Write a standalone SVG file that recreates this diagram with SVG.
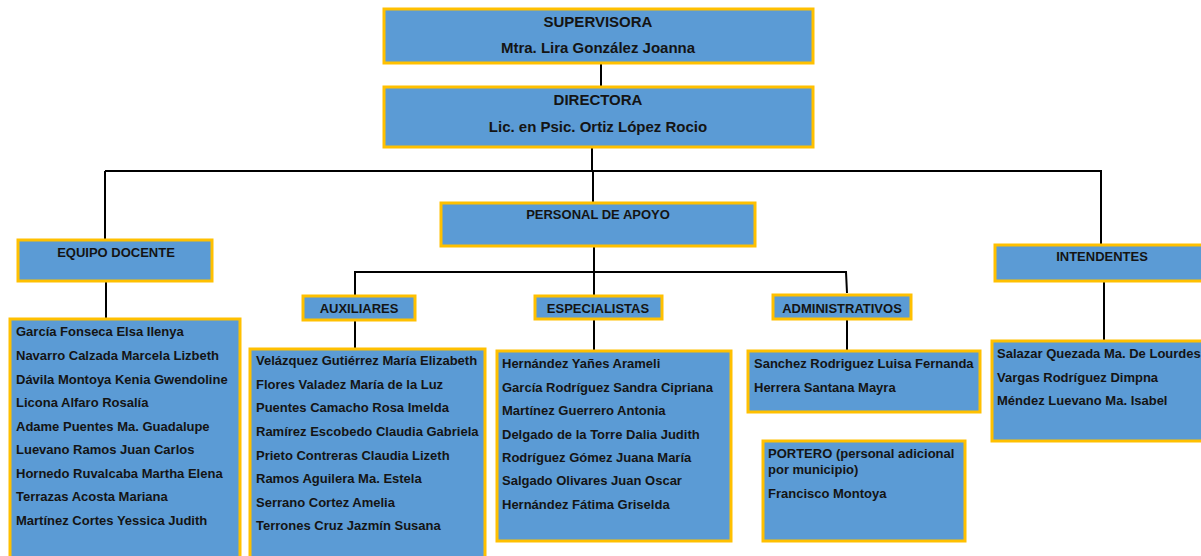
<svg xmlns="http://www.w3.org/2000/svg" width="1201" height="556" viewBox="0 0 1201 556">
<style>
.box{fill:#5B9BD5;stroke:#FFC000;stroke-width:3}
.t{font-family:"Liberation Sans",Arial,sans-serif;font-weight:bold;font-size:13px;fill:#141414}
.big{font-size:15px}
.c{text-anchor:middle}
.ln{stroke:#000;stroke-width:2;fill:none}
</style>
<rect width="1201" height="556" fill="#fff"/>
<g id="connectors">
<path class="ln" d="M601 64V87"/>
<path class="ln" d="M592 148V171"/>
<path class="ln" d="M105 171H1102"/>
<path class="ln" d="M105 171V239"/>
<path class="ln" d="M1101 172V244"/>
<path class="ln" d="M593 171V202"/>
<path class="ln" d="M106 282V318"/>
<path class="ln" d="M1104 282V340"/>
<path class="ln" d="M594 247V350"/>
<path class="ln" d="M355 295V272H846L847 293"/>
<path class="ln" d="M355 321V348"/>
<path class="ln" d="M847 320V350"/>
</g>
<g id="supervisora">
<rect class="box" x="384" y="9" width="429" height="54"/>
<text class="t big c" x="598" y="27">SUPERVISORA</text>
<text class="t big c" x="598" y="53">Mtra. Lira González Joanna</text>
</g>
<g id="directora">
<rect class="box" x="384" y="87" width="429" height="60"/>
<text class="t big c" x="598" y="105">DIRECTORA</text>
<text class="t big c" x="598" y="132">Lic. en Psic. Ortiz López Rocio</text>
</g>
<g id="personal-apoyo">
<rect class="box" x="441" y="203" width="314" height="43"/>
<text class="t c" x="598" y="219">PERSONAL DE APOYO</text>
</g>
<g id="equipo-docente">
<rect class="box" x="18" y="240" width="194" height="41"/>
<text class="t c" x="116" y="257">EQUIPO DOCENTE</text>
</g>
<g id="docentes">
<rect class="box" x="10" y="319" width="230" height="250"/>
<text class="t" x="16" y="336">García Fonseca Elsa Ilenya</text>
<text class="t" x="16" y="360">Navarro Calzada Marcela Lizbeth</text>
<text class="t" x="16" y="384">Dávila Montoya Kenia Gwendoline</text>
<text class="t" x="16" y="407">Licona Alfaro Rosalía</text>
<text class="t" x="16" y="431">Adame Puentes Ma. Guadalupe</text>
<text class="t" x="16" y="454">Luevano Ramos Juan Carlos</text>
<text class="t" x="16" y="478">Hornedo Ruvalcaba Martha Elena</text>
<text class="t" x="16" y="501">Terrazas Acosta Mariana</text>
<text class="t" x="16" y="525">Martínez Cortes Yessica Judith</text>
</g>
<g id="auxiliares">
<rect class="box" x="303" y="296" width="112" height="24"/>
<text class="t c" x="359" y="313">AUXILIARES</text>
</g>
<g id="auxiliares-lista">
<rect class="box" x="250" y="349" width="235" height="220"/>
<text class="t" x="256" y="365">Velázquez Gutiérrez María Elizabeth</text>
<text class="t" x="256" y="389">Flores Valadez María de la Luz</text>
<text class="t" x="256" y="412">Puentes Camacho Rosa Imelda</text>
<text class="t" x="256" y="436">Ramírez Escobedo Claudia Gabriela</text>
<text class="t" x="256" y="460">Prieto Contreras Claudia Lizeth</text>
<text class="t" x="256" y="483">Ramos Aguilera Ma. Estela</text>
<text class="t" x="256" y="507">Serrano Cortez Amelia</text>
<text class="t" x="256" y="530">Terrones Cruz Jazmín Susana</text>
</g>
<g id="especialistas">
<rect class="box" x="535" y="296" width="127" height="23"/>
<text class="t c" x="598" y="313">ESPECIALISTAS</text>
</g>
<g id="especialistas-lista">
<rect class="box" x="497" y="351" width="234" height="190"/>
<text class="t" x="502" y="368">Hernández Yañes Arameli</text>
<text class="t" x="502" y="392">García Rodríguez Sandra Cipriana</text>
<text class="t" x="502" y="415">Martínez Guerrero Antonia</text>
<text class="t" x="502" y="439">Delgado de la Torre Dalia Judith</text>
<text class="t" x="502" y="462">Rodríguez Gómez Juana María</text>
<text class="t" x="502" y="485">Salgado Olivares Juan Oscar</text>
<text class="t" x="502" y="509">Hernández Fátima Griselda</text>
</g>
<g id="administrativos">
<rect class="box" x="773" y="295" width="138" height="24"/>
<text class="t c" x="842" y="313">ADMINISTRATIVOS</text>
</g>
<g id="administrativos-lista">
<rect class="box" x="748" y="351" width="232" height="61"/>
<text class="t" x="754" y="368">Sanchez Rodriguez Luisa Fernanda</text>
<text class="t" x="754" y="392">Herrera Santana Mayra</text>
</g>
<g id="portero">
<rect class="box" x="763" y="441" width="202" height="100"/>
<text class="t" x="768" y="458">PORTERO (personal adicional</text>
<text class="t" x="768" y="474">por municipio)</text>
<text class="t" x="768" y="498">Francisco Montoya</text>
</g>
<g id="intendentes">
<rect class="box" x="995" y="245" width="220" height="36"/>
<text class="t c" x="1102" y="261">INTENDENTES</text>
</g>
<g id="intendentes-lista">
<rect class="box" x="992" y="341" width="220" height="100"/>
<text class="t" x="997" y="358">Salazar Quezada Ma. De Lourdes</text>
<text class="t" x="997" y="382">Vargas Rodríguez Dimpna</text>
<text class="t" x="997" y="405">Méndez Luevano Ma. Isabel</text>
</g>
</svg>
